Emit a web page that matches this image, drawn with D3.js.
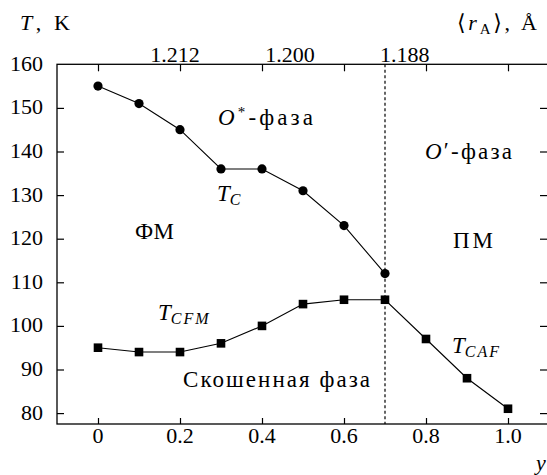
<!DOCTYPE html>
<html>
<head>
<meta charset="utf-8">
<script src="https://cdn.jsdelivr.net/npm/d3@7"></script>
<style>
  body { margin: 0; background: #fff; }
</style>
</head>
<body>
<svg id="chart" width="547" height="475"></svg>
<script>

    // data
    const compY = [0, 0.1, 0.2, 0.3, 0.4, 0.5, 0.6, 0.7, 0.8, 0.9, 1.0];
    const tcValues = [155, 151, 145, 136, 136, 131, 123, 112];           // circles, y = 0 .. 0.7
    const tcfmValues = [95, 94, 94, 96, 100, 105, 106, 106, 97, 88, 81]; // squares, y = 0 .. 1.0
    const boundaryY = 0.7;

    const xTicks = [0, 0.2, 0.4, 0.6, 0.8, 1.0];
    const yTicks = [80, 90, 100, 110, 120, 130, 140, 150, 160];
    const rATicks = [1.212, 1.200, 1.188];

    const svg = d3.select("#chart");
    const serif = "'Liberation Serif', 'DejaVu Serif', serif";

    const plotLeft = 57, plotRight = 549, plotTop = 64.3, plotBottom = 424;

    const x = d3.scaleLinear().domain([-0.1, 1.1]).range([plotLeft, plotRight]);
    const y = d3.scaleLinear().domain([77.5, 160]).range([plotBottom, plotTop]);
    // top <rA> labels do not sit on the bottom ticks, so they get their own scale
    const rA = d3.scaleLinear().domain([1.212, 1.188]).range([x(0.188), x(0.748)]);

    // frame
    svg.append("rect")
        .attr("x", plotLeft).attr("y", plotTop)
        .attr("width", plotRight - plotLeft).attr("height", plotBottom - plotTop)
        .attr("fill", "none").attr("stroke", "#000").attr("stroke-width", 1.3);

    // axes with inward ticks
    const axBottom = svg.append("g").attr("transform", "translate(0," + plotBottom + ")")
        .call(d3.axisTop(x).tickValues(xTicks).tickSize(6).tickFormat(""));
    const axTop = svg.append("g").attr("transform", "translate(0," + plotTop + ")")
        .call(d3.axisBottom(x).tickValues(xTicks).tickSize(7).tickFormat(""));
    const axLeft = svg.append("g").attr("transform", "translate(" + plotLeft + ",0)")
        .call(d3.axisRight(y).tickValues(yTicks.slice(0, -1)).tickSize(7).tickFormat(""));
    const axRight = svg.append("g").attr("transform", "translate(" + plotRight + ",0)")
        .call(d3.axisLeft(y).tickValues(yTicks.slice(0, -1)).tickSize(9).tickFormat(""));
    [axBottom, axTop, axLeft, axRight].forEach(function (g) {
        g.select(".domain").remove();
        g.selectAll("line").attr("stroke", "#000").attr("stroke-width", 1.2);
    });

    // tick labels
    svg.append("g").selectAll("text").data(xTicks).enter().append("text")
        .attr("x", function (d) { return x(d); }).attr("y", 443)
        .attr("text-anchor", "middle").attr("font-size", 22).attr("font-family", serif)
        .text(function (d) { return d === 0 ? "0" : d.toFixed(1); });

    svg.append("g").selectAll("text").data(yTicks).enter().append("text")
        .attr("x", 43).attr("y", function (d) { return y(d) + 6.5; })
        .attr("text-anchor", "end").attr("font-size", 22).attr("font-family", serif)
        .text(function (d) { return d; });

    svg.append("g").selectAll("text").data(rATicks).enter().append("text")
        .attr("x", function (d) { return rA(d); }).attr("y", 62)
        .attr("text-anchor", "middle").attr("font-size", 22).attr("font-family", serif)
        .text(function (d) { return d.toFixed(3); });

    // phase boundary
    svg.append("line")
        .attr("x1", x(boundaryY)).attr("x2", x(boundaryY))
        .attr("y1", plotTop).attr("y2", plotBottom)
        .attr("stroke", "#000").attr("stroke-width", 1.2)
        .attr("stroke-dasharray", "3,2.5");

    // curves
    const tcData = tcValues.map(function (v, i) { return [compY[i], v]; });
    const tcfmData = tcfmValues.map(function (v, i) { return [compY[i], v]; });
    const line = d3.line().x(function (d) { return x(d[0]); }).y(function (d) { return y(d[1]); });

    svg.append("path").datum(tcData).attr("d", line)
        .attr("fill", "none").attr("stroke", "#000").attr("stroke-width", 1.1);
    svg.append("path").datum(tcfmData).attr("d", line)
        .attr("fill", "none").attr("stroke", "#000").attr("stroke-width", 1.1);

    svg.append("g").selectAll("circle").data(tcData).enter().append("circle")
        .attr("cx", function (d) { return x(d[0]); })
        .attr("cy", function (d) { return y(d[1]); })
        .attr("r", 4.6).attr("fill", "#000");

    const sq = 8.6;
    svg.append("g").selectAll("rect").data(tcfmData).enter().append("rect")
        .attr("x", function (d) { return x(d[0]) - sq / 2; })
        .attr("y", function (d) { return y(d[1]) - sq / 2; })
        .attr("width", sq).attr("height", sq).attr("fill", "#000");

    // labels; w = width the label takes in the reference (Computer Modern is wider)
    function label(px, py, parts, w, size) {
        const t = svg.append("text").attr("x", px).attr("y", py)
            .attr("font-size", size || 23).attr("font-family", serif);
        parts.forEach(function (p) {
            const s = t.append("tspan").text(p.t);
            if (p.i) s.attr("font-style", "italic");
            if (p.s) s.attr("font-size", p.s);
            if (p.dy) s.attr("dy", p.dy);
            if (p.ls) s.attr("letter-spacing", p.ls);
        });
        if (w) t.attr("textLength", w).attr("lengthAdjust", "spacing");
        return t;
    }

    label(20, 30, [{ t: "T", i: true }, { t: ", K" }], 50, 22);
    label(457, 30, [{ t: "\u27E8" }, { t: "r", i: true }, { t: "A", s: 15, dy: 4 }, { t: "\u27E9, \u00C5", dy: -4 }], 80, 22);
    label(536, 470, [{ t: "y", i: true }], null, 22);

    label(218, 125, [{ t: "O", i: true }, { t: "*", s: 15, dy: -8 }, { t: "-фаза", dy: 8 }], 95);
    label(425, 159, [{ t: "O", i: true }, { t: "\u2032", dy: -1 }, { t: "-фаза", dy: 1 }], 87);
    label(217, 201, [{ t: "T", i: true }, { t: "C", i: true, s: 16, dy: 4 }]);
    label(135, 239, [{ t: "ФМ" }], 39);
    label(453, 248, [{ t: "ПМ" }], 40);
    label(158, 320, [{ t: "T", i: true }, { t: "CFM", i: true, s: 16, dy: 4, ls: 2 }]);
    label(452, 353, [{ t: "T", i: true }, { t: "CAF", i: true, s: 16, dy: 4, ls: 2 }]);
    label(183, 387, [{ t: "Скошенная фаза" }], 187);

</script>
</body>
</html>
